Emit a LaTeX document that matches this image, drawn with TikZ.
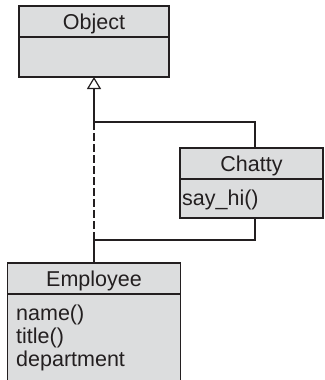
\documentclass[tikz,border=0pt]{standalone}
\usepackage{fontspec}
\setmainfont{Liberation Sans}
\usetikzlibrary{positioning,arrows.meta}
\definecolor{boxgray}{HTML}{DCDDDE}
\definecolor{ink}{HTML}{231F20}

\begin{document}
\begin{tikzpicture}[x=1pt,y=-1pt,
  head/.style={rectangle, draw=ink, fill=boxgray, line width=1.4pt, inner sep=0pt, outer sep=0pt, text=ink, text height=15.4pt, text depth=0pt},
  body/.style={rectangle, draw=ink, fill=boxgray, line width=1.4pt, inner sep=0pt, outer sep=0pt},
  op/.style={anchor=base west, inner sep=0pt, text=ink},
  link/.style={draw=ink, line width=1.2pt}]
\clip (0,0) rectangle (324,380);
\fontsize{21.5}{23}\selectfont

\node[head, minimum width=150pt, minimum height=31pt] (obj) at (94,21.5) {Object};
\node[body, minimum width=150pt, minimum height=40pt, below=0pt of obj] (objb) {};

\node[head, minimum width=143pt, minimum height=31pt] (chat) at (251.5,163.5) {Chatty};
\node[body, minimum width=143pt, minimum height=39pt, below=0pt of chat] (chatb) {};
\node[op] (sayhi) at (182,205) {say\_hi()};

\node[head, minimum width=173pt, minimum height=31pt] (emp) at (94,278.5) {Employee};
\node[body, minimum width=173pt, minimum height=120pt, below=0pt of emp] (empb) {};
\node[op] (name) at (16,320) {name()};
\node[op] (title) at (16,343) {title()};
\node[op] (dept) at (16,366) {department};

\coordinate (split) at (94,122);
\coordinate (join) at (94,240);
\draw[link, -{Triangle[open, width=14pt, length=12pt, line width=1.2pt]}] (split) -- (objb.south);
\draw[link] (split) -| ([xshift=3.5pt]chat.north);
\draw[link] ([xshift=3.5pt]chatb.south) |- (join);
\draw[link, dash pattern=on 8pt off 3pt] (split) -- (join);
\draw[link] (join) -- (emp.north);
\end{tikzpicture}
\end{document}
